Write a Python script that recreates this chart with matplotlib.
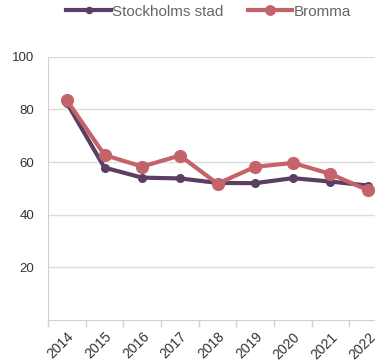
import matplotlib.pyplot as plt
import numpy as np

plt.rcParams['font.family'] = ['Liberation Sans', 'DejaVu Sans']

years = ['2014', '2015', '2016', '2017', '2018', '2019', '2020', '2021', '2022']
stockholm = [82.5, 57.9, 54.1, 53.8, 52.1, 52.0, 53.9, 52.6, 51.1]
bromma = [83.5, 62.7, 58.3, 62.5, 51.8, 58.2, 59.7, 55.5, 49.3]

c_sthlm = '#5a3f63'
c_bromma = '#c5636b'

fig = plt.figure(figsize=(3.75, 3.62), dpi=100)
ax = fig.add_axes([0.128, 0.116, 0.904, 0.727])

x = np.arange(len(years))
ax.plot(x, stockholm, color=c_sthlm, lw=3.0, marker='o', ms=5.5, label='Stockholms stad', zorder=3)
ax.plot(x, bromma, color=c_bromma, lw=3.0, marker='o', ms=8.5, label='Bromma', zorder=4)

ax.set_xlim(-0.5, len(years) - 0.5)
ax.set_ylim(0, 100)
ax.set_yticks([20, 40, 60, 80, 100])
ax.yaxis.grid(True, color='#dcdcdc', lw=1)
ax.set_axisbelow(True)

# ticks sit between categories, labels at the centres
ax.set_xticks(x - 0.5)
ax.set_xticklabels([])
ax.set_xticks(x, minor=True)
ax.set_xticklabels(years, minor=True, rotation=45, ha='right', rotation_mode='anchor')
ax.tick_params(axis='x', which='major', length=5, color='#d0d0d0', width=1)
ax.tick_params(axis='x', which='minor', length=0, pad=7, labelsize=10, labelcolor='#333333')
ax.tick_params(axis='y', length=0, pad=10, labelsize=9.5, labelcolor='#333333')

for s in ['top', 'right']:
    ax.spines[s].set_visible(False)
for s in ['left', 'bottom']:
    ax.spines[s].set_color('#d0d0d0')

leg = fig.legend(loc='upper center', bbox_to_anchor=(0.557, 1.025), ncol=2, frameon=False,
                 fontsize=11, handlelength=2.9, handletextpad=0.1, columnspacing=1.6,
                 markerscale=0.8)
for t in leg.get_texts():
    t.set_color('#666666')

fig.savefig('out.png', dpi=100)
